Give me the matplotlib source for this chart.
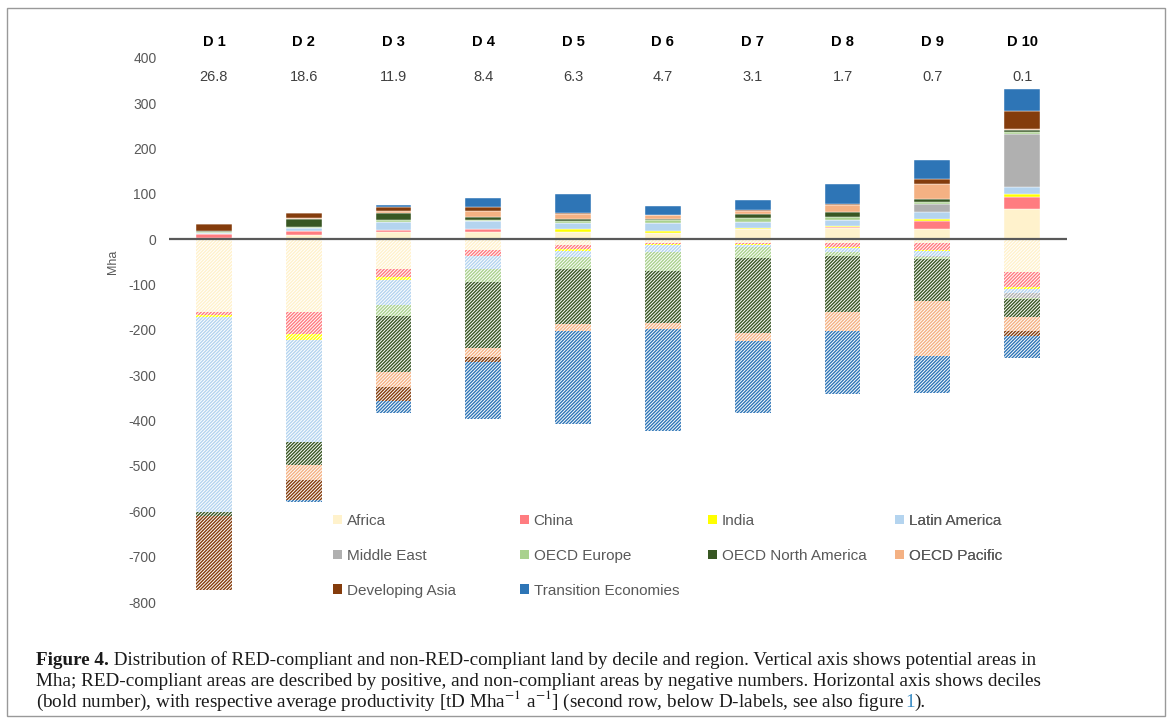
import matplotlib.pyplot as plt
import numpy as np
from matplotlib.patches import Patch, Rectangle

plt.rcParams['font.family'] = ['Liberation Sans', 'DejaVu Sans']
plt.rcParams['hatch.linewidth'] = 1.0
plt.rcParams['mathtext.fontset'] = 'stix'
plt.rcParams['axes.unicode_minus'] = False

# ---------------------------------------------------------
# Data (Mha), deciles D1..D10
# ---------------------------------------------------------
deciles = ['D 1', 'D 2', 'D 3', 'D 4', 'D 5', 'D 6', 'D 7', 'D 8', 'D 9', 'D 10']
productivity = [26.8, 18.6, 11.9, 8.4, 6.3, 4.7, 3.1, 1.7, 0.7, 0.1]

regions = ['Africa', 'China', 'India', 'Latin America', 'Middle East',
           'OECD Europe', 'OECD North America', 'OECD Pacific',
           'Developing Asia', 'Transition Economies']
colors = ['#FFF2CC', '#FF7C80', '#FFFF00', '#B4D4EF', '#B0B0B0',
          '#A9D18E', '#385723', '#F4B183', '#843C0C', '#2E75B6']

# RED-compliant (positive)
africa_pos = [4, 10, 16, 16, 16, 14, 22, 24, 22, 67]
china_pos = [7, 8, 4, 6, 1, 0.5, 0.5, 3, 19, 27]
india_pos = [0.5, 1, 0.5, 0, 5, 4.4, 2.2, 2.5, 3, 6]
latam_pos = [3, 6, 17, 19, 15, 17, 12.5, 12.5, 16, 16]
mideast_pos = [0, 0, 0, 0, 0, 0, 0, 0, 17, 116]
oecd_eu_pos = [1, 2, 5, 1.5, 4, 7, 9, 7, 6, 5]
oecd_na_pos = [2, 17, 15, 7, 3, 3, 9.5, 12, 7, 3.5]
oecd_pac_pos = [0.5, 3, 4, 12, 12, 7, 6, 14, 31, 3.5]
dev_asia_pos = [15, 10, 9.5, 9, 1, 1, 2, 3, 11, 40]
transition_pos = [1.5, 2, 5, 20.6, 43, 20.6, 23.5, 43.5, 44, 48]

# non-RED-compliant (negative)
africa_neg = [-160, -160, -66, -23.5, -12.5, -7, -7, -9, -7, -72]
china_neg = [-8, -48.5, -18, -13, -9.5, -3, -3, -9, -16, -34]
india_neg = [-4.4, -12.5, -6.6, -1, -3, -3, -2, -2, -3, -4.4]
latam_neg = [-428, -226, -54, -29, -13, -16, -4.4, -7, -10, -7]
mideast_neg = [0, 0, 0, 0, 0, 0, 0, 0, -3, -13]
oecd_eu_neg = [-1, -1, -24, -28, -28, -40, -24, -9.5, -5, -1.5]
oecd_na_neg = [-8, -50, -123, -145.5, -121, -116, -167, -123, -92, -40]
oecd_pac_neg = [0, -32, -35, -20, -16, -12.5, -17, -42.6, -122, -30]
dev_asia_neg = [-164, -46, -31, -11, 0, 0, 0, 0, 0, -11]
transition_neg = [-1, -3, -26, -125, -204, -225, -158, -139, -80, -48.5]

pos_series = [africa_pos, china_pos, india_pos, latam_pos, mideast_pos,
              oecd_eu_pos, oecd_na_pos, oecd_pac_pos, dev_asia_pos, transition_pos]
neg_series = [africa_neg, china_neg, india_neg, latam_neg, mideast_neg,
              oecd_eu_neg, oecd_na_neg, oecd_pac_neg, dev_asia_neg, transition_neg]

# ---------------------------------------------------------
# Figure
# ---------------------------------------------------------
fig = plt.figure(figsize=(11.71, 7.28), dpi=100)
ax = fig.add_axes([169 / 1171, 1 - 602 / 728, 898 / 1171, 544 / 728])

x = np.arange(len(deciles))
width = 0.4

bottom = np.zeros(len(x))
for vals, col in zip(pos_series, colors):
    ax.bar(x, vals, width, bottom=bottom, color=col, edgecolor='white', linewidth=0.3)
    bottom += np.array(vals)

# negative (non-compliant) stacks are hatched in the region colour
bottom = np.zeros(len(x))
for vals, col in zip(neg_series, colors):
    ax.bar(x, vals, width, bottom=bottom, facecolor='white', edgecolor=col,
           hatch='/' * 10, linewidth=0)
    bottom += np.array(vals)

ax.axhline(0, color='#595959', lw=1.6, zorder=5)

ax.set_xlim(-0.5, 9.5)
ax.set_ylim(-800, 400)
ax.set_yticks(np.arange(-800, 401, 100))
ax.set_xticks([])
ax.tick_params(axis='y', length=0, pad=9, labelsize=10, labelcolor='#595959')
for s in ax.spines.values():
    s.set_visible(False)

ax.set_ylabel('Mha', color='#595959', fontsize=9)
ax.yaxis.set_label_coords(-0.056, 0.625)

# decile labels and productivity row
for xi, d, p in zip(x, deciles, productivity):
    ax.text(xi, 1.029, d, transform=ax.get_xaxis_transform(), ha='center', va='center',
            fontsize=10.5, fontweight='bold', color='black', clip_on=False)
    ax.text(xi, 0.965, f'{p:.1f}', transform=ax.get_xaxis_transform(), ha='center',
            va='center', fontsize=10.5, color='#404040')

# legend: four columns, three rows
handles = [Patch(facecolor=c, edgecolor='none') for c in colors]
col_items = [[0, 4, 8], [1, 5, 9], [2, 6], [3, 7]]
col_x = [333, 520, 708, 895]
for cx, items in zip(col_x, col_items):
    leg = ax.legend([handles[i] for i in items], [regions[i] for i in items],
                    loc='upper left', bbox_to_anchor=(cx / 1171, 1 - 514 / 728),
                    bbox_transform=fig.transFigure, frameon=False, fontsize=11,
                    handlelength=0.6, handleheight=0.6, handletextpad=0.3,
                    labelspacing=1.36, borderpad=0, borderaxespad=0)
    for t in leg.get_texts():
        t.set_color('#595959')
    ax.add_artist(leg)

# frame around the whole figure
fig.add_artist(Rectangle((7 / 1171, 1 - 716 / 728), 1158 / 1171, 708 / 728,
                         transform=fig.transFigure, fill=False, edgecolor='#999999', lw=1))

# caption
fs = 13.8
cap_kw = dict(fontsize=fs, family='Liberation Serif', color='#1a1a1a')


def caption_piece(prev, text, y, **kw):
    style = dict(cap_kw)
    style.update(kw)
    return ax.annotate(text, xy=(1, y), xycoords=(prev, fig.transFigure), ha='left',
                       va='baseline', annotation_clip=False, **style)


y1, y2, y3 = 1 - 665 / 728, 1 - 686 / 728, 1 - 707 / 728
t = fig.text(36 / 1171, y1, 'Figure 4.', fontweight='bold', va='baseline', **cap_kw)
caption_piece(t, ' Distribution of RED-compliant and non-RED-compliant land by decile and region. '
              'Vertical axis shows potential areas in', y1)
fig.text(36 / 1171, y2,
         'Mha; RED-compliant areas are described by positive, and non-compliant areas by '
         'negative numbers. Horizontal axis shows deciles', va='baseline', **cap_kw)
t3 = fig.text(36 / 1171, y3,
              r'(bold number), with respective average productivity [tD Mha$^{-1}$ a$^{-1}$] '
              '(second row, below D-labels, see also figure ', va='baseline', **cap_kw)
t4 = caption_piece(t3, '1', y3, color='#3C8DC5')
caption_piece(t4, ').', y3)

plt.savefig('out.png', dpi=100, facecolor='white')
